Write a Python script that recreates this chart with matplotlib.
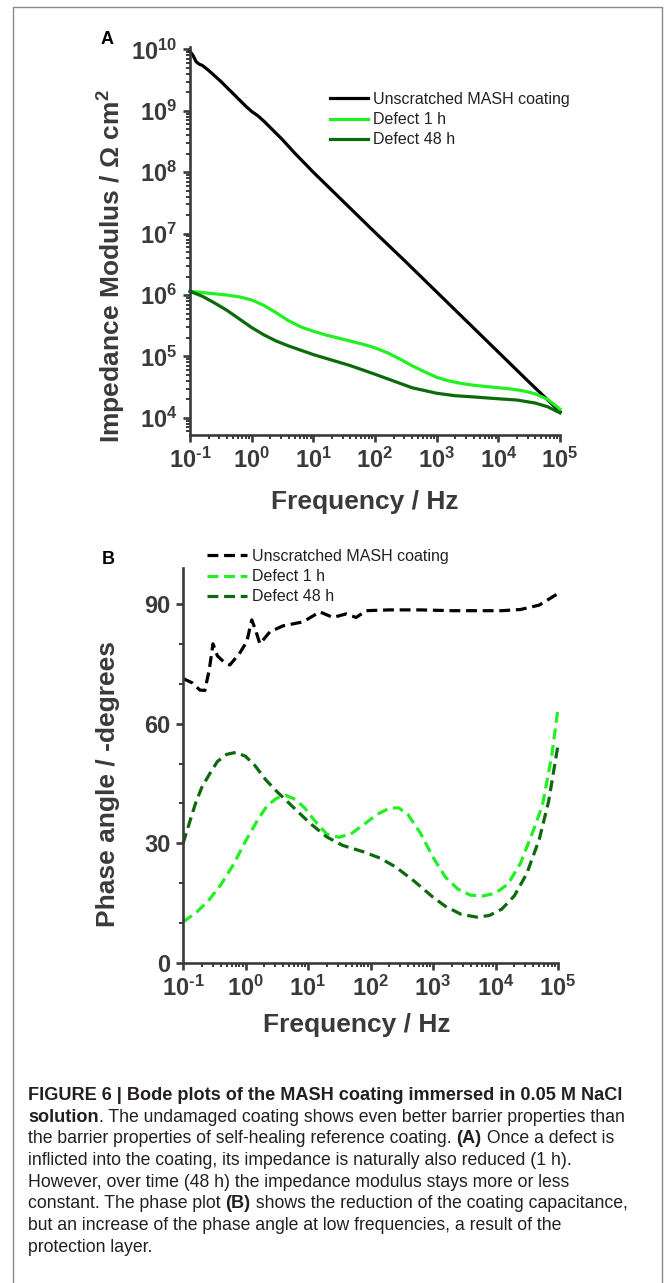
"""Bode plots (impedance modulus and phase) of the MASH coating, with caption."""

import matplotlib
matplotlib.use("Agg")
import matplotlib.pyplot as plt
import numpy as np
from matplotlib.lines import Line2D
from matplotlib.ticker import FixedLocator, FixedFormatter, LogLocator, MultipleLocator, NullFormatter
from matplotlib.transforms import IdentityTransform

W, H = 665, 1283

# ---- data (log10 of frequency in Hz) ----
LABELS = ["Unscratched MASH coating", "Defect 1 h", "Defect 48 h"]
COLORS = ["#000000", "#22f022", "#0c6a0c"]

# panel A: log10 |Z| / Ohm cm^2
A_UNSCR_LF = [-1.0, -0.95, -0.9, -0.85, -0.8, -0.7, -0.6, -0.5, -0.4, -0.3, -0.2, -0.1,
              0.0, 0.1, 0.2, 0.3, 0.4, 0.5, 0.7, 1.0, 1.5, 2.0, 2.5, 3.0, 3.5, 4.0, 4.5, 5.0]
A_UNSCR_LZ = [9.97, 9.90, 9.80, 9.76, 9.74, 9.66, 9.57, 9.48, 9.38, 9.28, 9.18, 9.08,
              8.99, 8.92, 8.83, 8.73, 8.63, 8.53, 8.31, 8.00, 7.51, 7.02, 6.54, 6.05,
              5.56, 5.07, 4.58, 4.10]

A_D1_LF = [-1.0, -0.8, -0.6, -0.4, -0.2, 0.0, 0.2, 0.4, 0.6, 0.8, 1.0, 1.2, 1.4, 1.6,
           1.8, 2.0, 2.2, 2.4, 2.6, 2.8, 3.0, 3.2, 3.4, 3.6, 3.8, 4.0, 4.2, 4.4, 4.6,
           4.8, 5.0]
A_D1_LZ = [6.06, 6.04, 6.02, 6.00, 5.97, 5.92, 5.83, 5.71, 5.58, 5.48, 5.41, 5.35, 5.30,
           5.25, 5.20, 5.14, 5.06, 4.96, 4.85, 4.75, 4.66, 4.60, 4.56, 4.53, 4.51, 4.49,
           4.47, 4.44, 4.39, 4.30, 4.14]

A_D48_LF = [-1.0, -0.8, -0.6, -0.4, -0.2, 0.0, 0.2, 0.4, 0.6, 0.8, 1.0, 1.3, 1.6, 2.0,
            2.3, 2.6, 3.0, 3.3, 3.6, 4.0, 4.3, 4.6, 4.8, 5.0]
A_D48_LZ = [6.06, 5.98, 5.87, 5.75, 5.61, 5.47, 5.35, 5.25, 5.17, 5.10, 5.03, 4.94, 4.85,
            4.71, 4.60, 4.49, 4.40, 4.36, 4.34, 4.31, 4.29, 4.24, 4.18, 4.08]

# panel B: phase angle / -degrees
B_UNSCR_LF = [-1.0, -0.85, -0.73, -0.65, -0.58, -0.52, -0.45, -0.35, -0.25, -0.1, 0.02,
              0.10, 0.16, 0.23, 0.39, 0.6, 0.92, 1.19, 1.4, 1.61, 1.77, 1.93, 2.3, 2.8,
              3.3, 3.8, 4.1, 4.4, 4.7, 5.0]
B_UNSCR_PH = [71.3, 70.2, 68.4, 68.3, 73.5, 80.0, 77.0, 75.5, 74.7, 77.5, 80.5, 86.0,
              83.5, 80.0, 83.0, 84.5, 85.5, 88.0, 86.6, 87.5, 86.6, 88.3, 88.5, 88.5,
              88.3, 88.3, 88.3, 88.6, 89.7, 92.6]

B_D1_LF = [-1.0, -0.8, -0.6, -0.4, -0.2, 0.0, 0.2, 0.35, 0.5, 0.65, 0.8, 0.95, 1.1, 1.3,
           1.5, 1.7, 1.9, 2.1, 2.3, 2.45, 2.6, 2.8, 3.0, 3.2, 3.4, 3.6, 3.8, 4.0, 4.2,
           4.4, 4.6, 4.75, 4.9, 5.0]
B_D1_PH = [10.3, 12.5, 15.5, 19.5, 24.5, 30.5, 36.0, 39.5, 41.3, 42.0, 41.0, 38.8, 35.8,
           32.3, 31.5, 32.5, 34.8, 37.2, 38.8, 38.9, 37.2, 32.5, 26.5, 21.5, 18.5, 17.0,
           16.8, 17.5, 19.8, 25.0, 33.0, 39.5, 52.0, 63.8]

B_D48_LF = [-1.0, -0.9, -0.8, -0.7, -0.57, -0.45, -0.3, -0.15, 0.0, 0.15, 0.33, 0.5, 0.7,
            0.9, 1.05, 1.3, 1.55, 1.9, 2.15, 2.4, 2.7, 3.0, 3.2, 3.45, 3.7, 3.9, 4.1, 4.3,
            4.5, 4.7, 4.85, 5.0]
B_D48_PH = [29.9, 35.0, 40.0, 44.0, 47.5, 50.5, 52.3, 52.8, 51.8, 49.5, 45.8, 43.0, 40.0,
            37.0, 34.8, 31.6, 29.5, 27.8, 26.3, 24.1, 20.5, 16.5, 14.2, 12.2, 11.5, 11.9,
            13.5, 16.8, 22.4, 31.0, 40.5, 54.6]

XTICKS = [1e-1, 1e0, 1e1, 1e2, 1e3, 1e4, 1e5]
XTICK_LABELS = ["10$^{\\text{-1}}$", "10$^{0}$", "10$^{1}$", "10$^{2}$", "10$^{3}$", "10$^{4}$", "10$^{5}$"]
A_YTICKS = [1e4, 1e5, 1e6, 1e7, 1e8, 1e9, 1e10]
A_YTICK_LABELS = ["10$^{4}$", "10$^{5}$", "10$^{6}$", "10$^{7}$", "10$^{8}$", "10$^{9}$", "10$^{10}$"]
B_YTICKS = [0, 30, 60, 90]

CAPTION = [
    [("FIGURE 6 | Bode plots of the MASH coating immersed in 0.05 M NaCl", True)],
    [("solution", True), (". The undamaged coating shows even better barrier properties than", False)],
    [("the barrier properties of self-healing reference coating. ", False), ("(A)", True),
     (" Once a defect is", False)],
    [("inflicted into the coating, its impedance is naturally also reduced (1 h).", False)],
    [("However, over time (48 h) the impedance modulus stays more or less", False)],
    [("constant. The phase plot ", False), ("(B)", True),
     (" shows the reduction of the coating capacitance,", False)],
    [("but an increase of the phase angle at low frequencies, a result of the", False)],
    [("protection layer.", False)],
]

AXC = "#3a3a3a"

plt.rcParams["font.family"] = ["Liberation Sans", "DejaVu Sans"]
plt.rcParams["font.weight"] = "bold"
plt.rcParams["axes.labelweight"] = "bold"
plt.rcParams["mathtext.fontset"] = "custom"
plt.rcParams["mathtext.rm"] = "Liberation Sans:bold"
plt.rcParams["mathtext.bf"] = "Liberation Sans:bold"
plt.rcParams["mathtext.it"] = "Liberation Sans:bold:italic"
plt.rcParams["mathtext.default"] = "regular"


def style_axes(ax):
    for side in ["top", "right"]:
        ax.spines[side].set_visible(False)
    for side in ["left", "bottom"]:
        ax.spines[side].set_color(AXC)
        ax.spines[side].set_linewidth(1.9)
    ax.tick_params(which="major", direction="out", length=5, width=1.9, color=AXC,
                   labelcolor=AXC, labelsize=17, pad=4)
    ax.tick_params(which="minor", direction="out", length=3, width=1.4, color=AXC)
    ax.set_xscale("log")
    ax.set_xlim(1e-1, 1e5)
    ax.xaxis.set_major_locator(FixedLocator(XTICKS))
    ax.xaxis.set_major_formatter(FixedFormatter(XTICK_LABELS))
    ax.xaxis.set_minor_locator(LogLocator(base=10, subs=np.arange(2, 10), numticks=20))
    ax.xaxis.set_minor_formatter(NullFormatter())


def bold_ticklabels(ax):
    for lbl in ax.get_xticklabels() + ax.get_yticklabels():
        lbl.set_fontweight("bold")


fig = plt.figure(figsize=(W / 100, H / 100), dpi=100)

# ---- panel A ----
axA = fig.add_axes([190 / W, 1 - 435 / H, 370 / W, 388 / H])
style_axes(axA)
axA.set_yscale("log")
axA.set_ylim(10 ** 3.72, 10 ** 10.04)
axA.yaxis.set_major_locator(FixedLocator(A_YTICKS))
axA.yaxis.set_major_formatter(FixedFormatter(A_YTICK_LABELS))
axA.yaxis.set_minor_locator(LogLocator(base=10, subs=np.arange(2, 10), numticks=20))
axA.yaxis.set_minor_formatter(NullFormatter())
bold_ticklabels(axA)

for lf, lz, lab, c in [(A_UNSCR_LF, A_UNSCR_LZ, LABELS[0], COLORS[0]),
                       (A_D1_LF, A_D1_LZ, LABELS[1], COLORS[1]),
                       (A_D48_LF, A_D48_LZ, LABELS[2], COLORS[2])]:
    axA.plot(10 ** np.array(lf), 10 ** np.array(lz), color=c, lw=2.3, label=lab,
             solid_joinstyle="round", clip_on=False)

axA.set_xlabel("Frequency / Hz", fontsize=19, fontweight="bold", color=AXC, va="center")
axA.xaxis.set_label_coords(0.473, -0.173)
axA.set_ylabel("Impedance Modulus / \u03a9 cm$^{2}$", fontsize=19, fontweight="bold",
               color=AXC, va="center")
axA.yaxis.set_label_coords(-0.211, 0.4356)
axA.legend(loc="upper left", bbox_to_anchor=(330 / W, 1 - 92 / H), bbox_transform=fig.transFigure,
           frameon=False, handlelength=2.4, handletextpad=0.3, labelspacing=0.32,
           borderpad=0, borderaxespad=0, prop={"size": 11.5, "weight": "normal"},
           labelcolor="#222222")

# ---- panel B ----
axB = fig.add_axes([183 / W, 1 - 963 / H, 375 / W, 395 / H])
style_axes(axB)
axB.set_ylim(0, 99)
axB.yaxis.set_major_locator(FixedLocator(B_YTICKS))
axB.yaxis.set_minor_locator(MultipleLocator(10))
bold_ticklabels(axB)

for lf, ph, lab, c in [(B_UNSCR_LF, B_UNSCR_PH, LABELS[0], COLORS[0]),
                       (B_D1_LF, B_D1_PH, LABELS[1], COLORS[1]),
                       (B_D48_LF, B_D48_PH, LABELS[2], COLORS[2])]:
    axB.plot(10 ** np.array(lf), ph, color=c, lw=2.3, ls=(0, (3.4, 1.8)), label=lab, clip_on=False)

axB.set_xlabel("Frequency / Hz", fontsize=19, fontweight="bold", color=AXC, va="center")
axB.xaxis.set_label_coords(0.464, -0.157)
axB.set_ylabel("Phase angle / -degrees", fontsize=19, fontweight="bold", color=AXC, va="center")
axB.yaxis.set_label_coords(-0.2, 0.4544)
axB.legend(loc="upper left", bbox_to_anchor=(207 / W, 1 - 549 / H), bbox_transform=fig.transFigure,
           frameon=False, handlelength=2.5, handletextpad=0.3, labelspacing=0.32,
           borderpad=0, borderaxespad=0, prop={"size": 11.5, "weight": "normal"},
           labelcolor="#222222")

# panel letters
fig.text(107 / W, 1 - 40 / H, "A", fontsize=13, fontweight="bold", ha="center", va="center")
fig.text(108 / W, 1 - 560 / H, "B", fontsize=13, fontweight="bold", ha="center", va="center")

# outer frame (no bottom edge)
fig.add_artist(Line2D([12.5 / W, 12.5 / W, 662 / W, 662 / W], [0, 1 - 7 / H, 1 - 7 / H, 0],
                      transform=fig.transFigure, color="#8a8a8a", lw=1))

# ---- caption ----
renderer = fig.canvas.get_renderer()
CAP_SIZE_BOLD = 13.1
CAP_SIZE_REG = 12.7
CAP_COLOR = "#231f20"


def seg_width(text, bold, size):
    w = "bold" if bold else "normal"
    t1 = fig.text(0, 0, "x" + text + "x", fontsize=size, fontweight=w, transform=IdentityTransform())
    t2 = fig.text(0, 0, "xx", fontsize=size, fontweight=w, transform=IdentityTransform())
    width = t1.get_window_extent(renderer).width - t2.get_window_extent(renderer).width
    t1.remove()
    t2.remove()
    return width


for i, line in enumerate(CAPTION):
    x = 28
    y = H - (1100 + i * 21.7)
    for text, bold in line:
        size = CAP_SIZE_BOLD if bold else CAP_SIZE_REG
        fig.text(x, y, text, fontsize=size, fontweight="bold" if bold else "normal",
                 color=CAP_COLOR, va="baseline", ha="left", transform=IdentityTransform())
        x += seg_width(text, bold, size)

fig.savefig("out.png", dpi=100)
plt.close(fig)
